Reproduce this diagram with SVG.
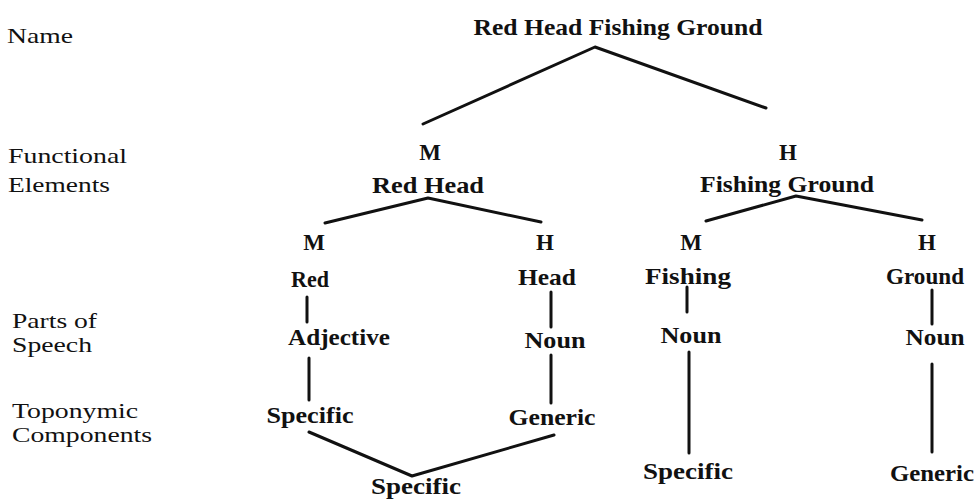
<svg xmlns="http://www.w3.org/2000/svg" width="978" height="499" viewBox="0 0 978 499">
<style>
.lbl{font-family:"Liberation Serif","Times New Roman",serif;font-size:21px;fill:#111}
.t{font-family:"Liberation Serif","Times New Roman",serif;font-size:23px;font-weight:bold;fill:#111;text-anchor:middle}
.c{fill:none;stroke:#111;stroke-width:3;stroke-linecap:round;stroke-linejoin:round}
</style>
<rect width="978" height="499" fill="#fff"/>
<g id="row-labels">
<text class="lbl" x="7" y="43" textLength="66" lengthAdjust="spacingAndGlyphs">Name</text>
<text class="lbl" x="8" y="163" textLength="119" lengthAdjust="spacingAndGlyphs">Functional</text>
<text class="lbl" x="8" y="192" textLength="102" lengthAdjust="spacingAndGlyphs">Elements</text>
<text class="lbl" x="12" y="328" textLength="85" lengthAdjust="spacingAndGlyphs">Parts of</text>
<text class="lbl" x="12" y="352" textLength="80" lengthAdjust="spacingAndGlyphs">Speech</text>
<text class="lbl" x="12" y="418" textLength="126" lengthAdjust="spacingAndGlyphs">Toponymic</text>
<text class="lbl" x="12" y="442" textLength="140" lengthAdjust="spacingAndGlyphs">Components</text>
</g>
<g id="connectors">
<polyline class="c" points="423,124 595,47 766,108"/>
<polyline class="c" points="325,223 428,198 541,222"/>
<polyline class="c" points="706,221 796,196 922,220"/>
<line class="c" x1="307" y1="297" x2="307" y2="322"/>
<line class="c" x1="551" y1="292" x2="551" y2="327"/>
<line class="c" x1="687" y1="287" x2="687" y2="312"/>
<line class="c" x1="932" y1="290" x2="932" y2="324"/>
<line class="c" x1="309" y1="358" x2="309" y2="400"/>
<line class="c" x1="551" y1="355" x2="551" y2="403"/>
<line class="c" x1="689" y1="352" x2="689" y2="453"/>
<line class="c" x1="932" y1="364" x2="932" y2="452"/>
<polyline class="c" points="309,432 412,476 554,435"/>
</g>
<g id="root"><text class="t" x="618" y="35" textLength="289" lengthAdjust="spacingAndGlyphs">Red Head Fishing Ground</text></g>
<g id="m-redhead"><text class="t" x="430" y="160">M</text><text class="t" x="428" y="193" textLength="112" lengthAdjust="spacingAndGlyphs">Red Head</text></g>
<g id="h-fishingground"><text class="t" x="788" y="160">H</text><text class="t" x="787" y="192" textLength="174" lengthAdjust="spacingAndGlyphs">Fishing Ground</text></g>
<g id="m-red"><text class="t" x="314" y="250">M</text><text class="t" x="310" y="287" textLength="38" lengthAdjust="spacingAndGlyphs">Red</text></g>
<g id="h-head"><text class="t" x="545" y="250">H</text><text class="t" x="547" y="285" textLength="58" lengthAdjust="spacingAndGlyphs">Head</text></g>
<g id="m-fishing"><text class="t" x="691" y="250">M</text><text class="t" x="688" y="284" textLength="86" lengthAdjust="spacingAndGlyphs">Fishing</text></g>
<g id="h-ground"><text class="t" x="927" y="250">H</text><text class="t" x="925" y="284" textLength="78" lengthAdjust="spacingAndGlyphs">Ground</text></g>
<g id="adjective"><text class="t" x="339" y="345" textLength="102" lengthAdjust="spacingAndGlyphs">Adjective</text></g>
<g id="noun-head"><text class="t" x="555" y="348" textLength="61" lengthAdjust="spacingAndGlyphs">Noun</text></g>
<g id="noun-fishing"><text class="t" x="691" y="343" textLength="61" lengthAdjust="spacingAndGlyphs">Noun</text></g>
<g id="noun-ground"><text class="t" x="935" y="345" textLength="59" lengthAdjust="spacingAndGlyphs">Noun</text></g>
<g id="specific-red"><text class="t" x="310" y="423" textLength="87" lengthAdjust="spacingAndGlyphs">Specific</text></g>
<g id="generic-head"><text class="t" x="552" y="425" textLength="87" lengthAdjust="spacingAndGlyphs">Generic</text></g>
<g id="specific-fishing"><text class="t" x="688" y="479" textLength="90" lengthAdjust="spacingAndGlyphs">Specific</text></g>
<g id="generic-ground"><text class="t" x="932" y="481" textLength="84" lengthAdjust="spacingAndGlyphs">Generic</text></g>
<g id="specific-redhead"><text class="t" x="416" y="494" textLength="90" lengthAdjust="spacingAndGlyphs">Specific</text></g>
</svg>
